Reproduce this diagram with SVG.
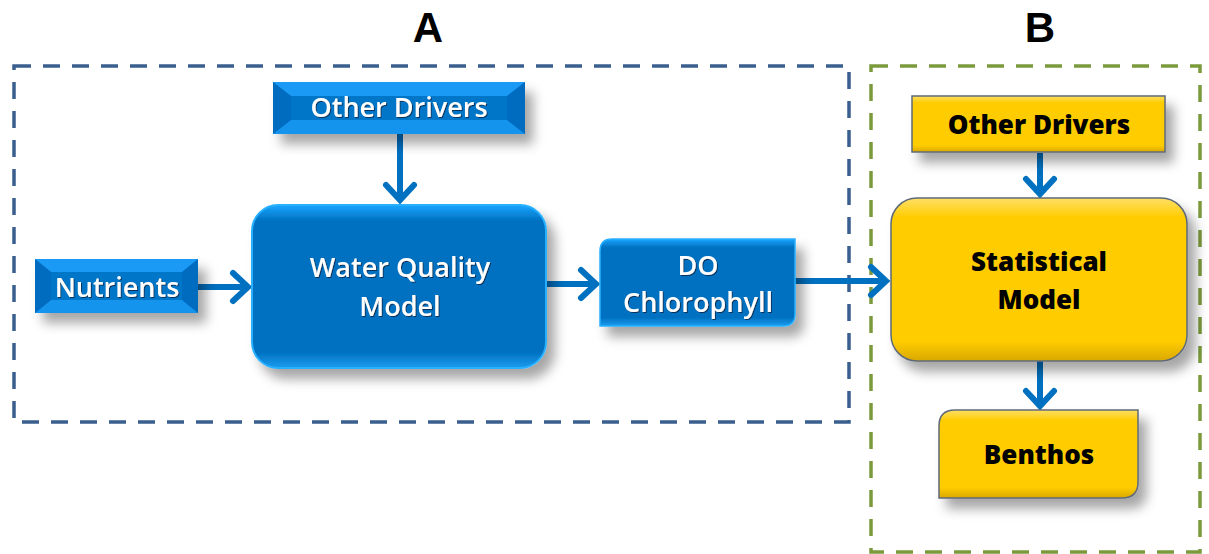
<svg xmlns="http://www.w3.org/2000/svg" width="1209" height="554" viewBox="0 0 1209 554">
<defs>
<style>
.wt{font-family:"Open Sans","Liberation Sans",sans-serif;font-weight:600;font-size:27px;fill:#fff;text-anchor:middle;}
.bt{font-family:"Open Sans","Liberation Sans",sans-serif;font-weight:800;font-size:26px;fill:#000;text-anchor:middle;}
.lbl{font-family:"Liberation Sans",Arial,sans-serif;font-weight:700;font-size:42px;fill:#000;text-anchor:middle;}
.conn{stroke:#0070c0;stroke-width:6;fill:none;marker-end:url(#chev);}
.ybox{fill:url(#ygrad);stroke:#5f6a78;stroke-width:1.5;}
</style>
<marker id="chev" markerUnits="userSpaceOnUse" markerWidth="40" markerHeight="40" viewBox="-20 -20 40 40" refX="0" refY="0" orient="auto">
<path d="M-15,-14 L0,0 L-15,14" fill="none" stroke="#0070c0" stroke-width="6" stroke-linecap="round" stroke-linejoin="miter"/>
</marker>
<filter id="sh" x="-20%" y="-20%" width="150%" height="160%">
<feDropShadow dx="8" dy="10" stdDeviation="6" flood-color="#000" flood-opacity="0.35"/>
</filter>
<filter id="ts" x="-10%" y="-20%" width="120%" height="150%">
<feDropShadow dx="1" dy="1" stdDeviation="0.6" flood-color="#102040" flood-opacity="0.8"/>
</filter>
<linearGradient id="ygrad" x1="0" y1="0" x2="0" y2="1">
<stop offset="0" stop-color="#ffe066"/>
<stop offset="0.12" stop-color="#ffcc00"/>
<stop offset="0.88" stop-color="#ffcc00"/>
<stop offset="1" stop-color="#d9a800"/>
</linearGradient>
<linearGradient id="bgrad" x1="0" y1="0" x2="0" y2="1">
<stop offset="0" stop-color="#19a6ff"/>
<stop offset="0.1" stop-color="#0070c0"/>
<stop offset="0.9" stop-color="#0070c0"/>
<stop offset="1" stop-color="#1a9cf0"/>
</linearGradient>
</defs>
<rect width="1209" height="554" fill="#fff"/>

<g id="frameA">
<rect x="14" y="66" width="835" height="356" fill="none" stroke="#3a5f8e" stroke-width="3.5" stroke-dasharray="17 12"/>
<text class="lbl" x="428" y="42">A</text>
</g>
<g id="frameB">
<rect x="871" y="66" width="329" height="486" fill="none" stroke="#7b9a3c" stroke-width="3.5" stroke-dasharray="17 12"/>
<text class="lbl" x="1040" y="42">B</text>
</g>

<g id="connectors">
<line class="conn" x1="400" y1="134" x2="400" y2="200"/>
<line class="conn" x1="198" y1="287" x2="248" y2="287"/>
<line class="conn" x1="546" y1="284" x2="596" y2="284"/>
<line class="conn" x1="795" y1="281" x2="886" y2="281"/>
<line class="conn" x1="1040" y1="153" x2="1040" y2="194"/>
<line class="conn" x1="1040" y1="361" x2="1040" y2="406"/>
</g>

<g id="otherDriversA">
<g filter="url(#sh)">
<rect x="273" y="82" width="252" height="52" fill="#0a84e0"/>
</g>
<polygon points="273,82 525,82 507,96 291,96" fill="#1a9af4"/>
<polygon points="273,134 525,134 507,120 291,120" fill="#1594ee"/>
<polygon points="273,82 291,96 291,120 273,134" fill="#006cc0"/>
<polygon points="525,82 507,96 507,120 525,134" fill="#006cc0"/>
<rect x="291" y="96" width="216" height="24" fill="#0076c8"/>
<text class="wt" x="399" y="117" filter="url(#ts)">Other Drivers</text>
</g>

<g id="nutrients">
<g filter="url(#sh)">
<rect x="35" y="259" width="163" height="54" fill="#0a84e0"/>
</g>
<polygon points="35,259 198,259 182,272 51,272" fill="#1a9af4"/>
<polygon points="35,313 198,313 182,300 51,300" fill="#1594ee"/>
<polygon points="35,259 51,272 51,300 35,313" fill="#006cc0"/>
<polygon points="198,259 182,272 182,300 198,313" fill="#006cc0"/>
<rect x="51" y="272" width="131" height="28" fill="#0076c8"/>
<text class="wt" x="117" y="297" filter="url(#ts)">Nutrients</text>
</g>

<g id="waterQualityModel">
<rect x="252" y="205" width="294" height="163" rx="26" fill="url(#bgrad)" stroke="#28b0ff" stroke-width="2" filter="url(#sh)"/>
<text class="wt" x="400" y="277" filter="url(#ts)">Water Quality</text>
<text class="wt" x="400" y="316" filter="url(#ts)">Model</text>
</g>

<g id="doChlorophyll">
<path d="M612,239 L795,239 L795,314 Q795,326 783,326 L600,326 L600,251 Q600,239 612,239 Z" fill="url(#bgrad)" stroke="#28b0ff" stroke-width="1.5" filter="url(#sh)"/>
<text class="wt" x="698" y="275" filter="url(#ts)">DO</text>
<text class="wt" x="698" y="312" filter="url(#ts)">Chlorophyll</text>
</g>

<g id="otherDriversB">
<rect class="ybox" x="912" y="96" width="253" height="56" filter="url(#sh)"/>
<text class="bt" x="1039" y="134">Other Drivers</text>
</g>

<g id="statisticalModel">
<rect class="ybox" x="891" y="198" width="296" height="163" rx="26" filter="url(#sh)"/>
<text class="bt" x="1039" y="271">Statistical</text>
<text class="bt" x="1039" y="309">Model</text>
</g>

<g id="benthos">
<path class="ybox" d="M955,410 L1138,410 L1138,482 Q1138,498 1122,498 L939,498 L939,426 Q939,410 955,410 Z" filter="url(#sh)"/>
<text class="bt" x="1039" y="464">Benthos</text>
</g>
</svg>
